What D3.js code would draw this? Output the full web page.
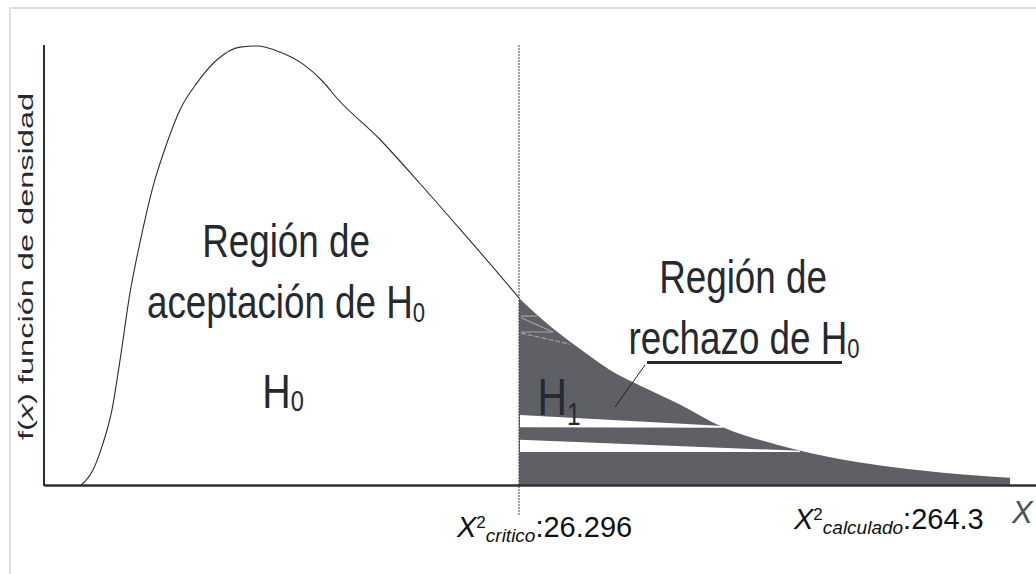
<!DOCTYPE html>
<html>
<head>
<meta charset="utf-8">
<script src="https://cdn.jsdelivr.net/npm/d3@7"></script>
<style>
  body { margin: 0; background: #fff; }
  svg { display: block; font-family: "Liberation Sans", Arial, sans-serif; }
</style>
</head>
<body>
<svg id="chart" width="1036" height="574"></svg>
<script>
// densidad chi-cuadrado (x en unidades de X², y = f(x))
const curveX = [1.99, 2.71, 3.27, 3.76, 4.21, 4.76, 5.31, 6.03, 6.81, 7.53, 8.47, 9.58,
  10.85, 11.79, 13.06, 14.34, 15.45, 16.22, 18.60, 20.81, 23.03, 25.24, 26.296,
  27.62, 29.51, 31.33, 33.16, 35.04, 37.59, 40.58, 42.40, 46.11, 49.77, 53.48];
const curveY = [0, 0.0029, 0.0078, 0.0138, 0.0229, 0.0351, 0.0442, 0.0544, 0.0624, 0.0684, 0.0733, 0.0775,
  0.0798, 0.0800, 0.0789, 0.0767, 0.0735, 0.0705, 0.0630, 0.0550, 0.0467, 0.0383, 0.0342,
  0.0302, 0.0253, 0.0211, 0.0180, 0.0151, 0.0107, 0.0075, 0.0060, 0.0038, 0.0024, 0.0015];

const xCritico = 26.296;
const critLabel = "26.296";
const calcLabel = "264.3";

// franjas blancas dentro de la región de rechazo (artefactos del dibujo original)
const streakA = [[26.35, 0.0129], [37.6, 0.0109], [37.6, 0.0106], [26.35, 0.0107]];
const streakB = [[26.35, 0.0084], [41.85, 0.0064], [41.85, 0.0062], [26.35, 0.0062]];
// trazos grises finos cerca de la línea crítica
const faintLines = [
  [[26.41, 0.0309], [27.29, 0.0309]],
  [[26.41, 0.0306], [28.18, 0.0280]],
  [[26.41, 0.0280], [28.18, 0.0280]],
  [[26.41, 0.0278], [29.12, 0.0258]]
];

const svg = d3.select("#chart");
const ink = "#262a30";

const xScale = d3.scaleLinear().domain([0, 55]).range([44, 44 + 55 * (475 / 26.296)]);
const yScale = d3.scaleLinear().domain([0, 0.08]).range([486, 46]);

// marco gris claro
svg.append("line").attr("x1", 10).attr("x2", 1036).attr("y1", 8).attr("y2", 8)
  .attr("stroke", "#dedede").attr("stroke-width", 2);
svg.append("line").attr("x1", 10).attr("x2", 10).attr("y1", 7).attr("y2", 574)
  .attr("stroke", "#dedede").attr("stroke-width", 2);

const pts = curveX.map((x, i) => ({ x, y: curveY[i] }));

// región de rechazo
const area = d3.area()
  .x(d => xScale(d.x))
  .y0(yScale(0))
  .y1(d => yScale(d.y))
  .curve(d3.curveMonotoneX);
const tail = pts.filter(d => d.x >= xCritico);
svg.append("path")
  .attr("d", area(tail))
  .attr("fill", "#5f6065");

// franjas blancas
const poly = d3.line().x(d => xScale(d[0])).y(d => yScale(d[1]));
[streakA, streakB].forEach(s => {
  svg.append("path").attr("d", poly(s) + "Z").attr("fill", "#fff");
});
faintLines.forEach((l, i) => {
  svg.append("path").attr("d", poly(l))
    .attr("stroke", "#a3a4a8").attr("stroke-width", 1.2).attr("fill", "none")
    .attr("stroke-dasharray", i === 3 ? "5,2" : null);
});

// curva de densidad (parte izquierda)
const line = d3.line()
  .x(d => xScale(d.x))
  .y(d => yScale(d.y))
  .curve(d3.curveMonotoneX);
svg.append("path")
  .attr("d", line(pts.filter(d => d.x <= xCritico)))
  .attr("fill", "none")
  .attr("stroke", "#2a2e33")
  .attr("stroke-width", 1.1);

// línea del valor crítico
svg.append("line")
  .attr("x1", xScale(xCritico)).attr("x2", xScale(xCritico))
  .attr("y1", 45).attr("y2", 515)
  .attr("stroke", "#444").attr("stroke-width", 1)
  .attr("stroke-dasharray", "2,1");

// ejes
const xAxis = svg.append("g").attr("transform", `translate(0,${yScale(0) - 1})`)
  .call(d3.axisBottom(xScale).tickValues([]).tickSizeOuter(0));
xAxis.select(".domain").attr("stroke", "#2b3037").attr("stroke-width", 2.5);
const yAxis = svg.append("g").attr("transform", `translate(${xScale(0)},0)`)
  .call(d3.axisLeft(yScale).tickValues([]).tickSizeOuter(0));
yAxis.select(".domain").attr("stroke", "#2b3037").attr("stroke-width", 2)
  .attr("d", `M0,${yScale(0)}V45`);

// etiqueta del eje y (estirada a lo largo, como en el original)
svg.append("text")
  .attr("transform", "translate(33,266.5) rotate(-90) scale(1.55,1)")
  .attr("text-anchor", "middle")
  .attr("font-size", 21)
  .attr("fill", ink)
  .call(t => {
    t.append("tspan").text("f(");
    t.append("tspan").attr("font-style", "italic").text("x");
    t.append("tspan").text(") función de densidad");
  });

// rótulos grandes (fuente estrecha)
function bigLabel(main, sub, cx, by, size, sx, subDy) {
  const g = svg.append("g").attr("transform", `translate(${cx},${by}) scale(${sx},1)`);
  const t = g.append("text")
    .attr("text-anchor", "middle")
    .attr("font-family", "'Liberation Sans Narrow', 'Arial Narrow', sans-serif")
    .attr("font-size", size)
    .attr("fill", ink);
  t.append("tspan").text(main);
  if (sub) t.append("tspan").attr("font-size", size * 0.6).attr("dy", subDy).text(sub);
  return g;
}

bigLabel("Región de", null, 286, 257, 46, 0.8);
bigLabel("aceptación de H", "0", 286, 318, 46, 0.8, 4);
bigLabel("H", "0", 283, 408, 48, 0.82, 3);

bigLabel("Región de", null, 743, 293, 46, 0.8);
bigLabel("rechazo de H", "0", 744, 354, 46, 0.8, 4);
svg.append("line").attr("x1", 647).attr("x2", 842).attr("y1", 362.5).attr("y2", 362.5)
  .attr("stroke", ink).attr("stroke-width", 3);
svg.append("line").attr("x1", 645).attr("y1", 365).attr("x2", 615).attr("y2", 407)
  .attr("stroke", "#222").attr("stroke-width", 1);

bigLabel("H", "1", 559, 415, 51, 0.8, 10);

// rótulos del eje x
function statLabel(x, by, subText, value) {
  const t = svg.append("text")
    .attr("x", x).attr("y", by)
    .attr("font-size", 29)
    .attr("fill", "#111");
  t.append("tspan").attr("font-style", "italic").text("X");
  t.append("tspan").attr("font-size", 17).attr("dy", -9).text("2");
  t.append("tspan").attr("font-style", "italic").attr("font-size", 19).attr("dy", 14).text(subText);
  t.append("tspan").attr("dy", -5).text(":" + value);
}
statLabel(457, 537, "critico", critLabel);
statLabel(794, 529, "calculado", calcLabel);

svg.append("text")
  .attr("x", 1012).attr("y", 523)
  .attr("font-family", "'Liberation Sans Narrow', 'Arial Narrow', sans-serif")
  .attr("font-style", "italic")
  .attr("font-size", 31)
  .attr("fill", "#4b525a")
  .text("X");
</script>
</body>
</html>
